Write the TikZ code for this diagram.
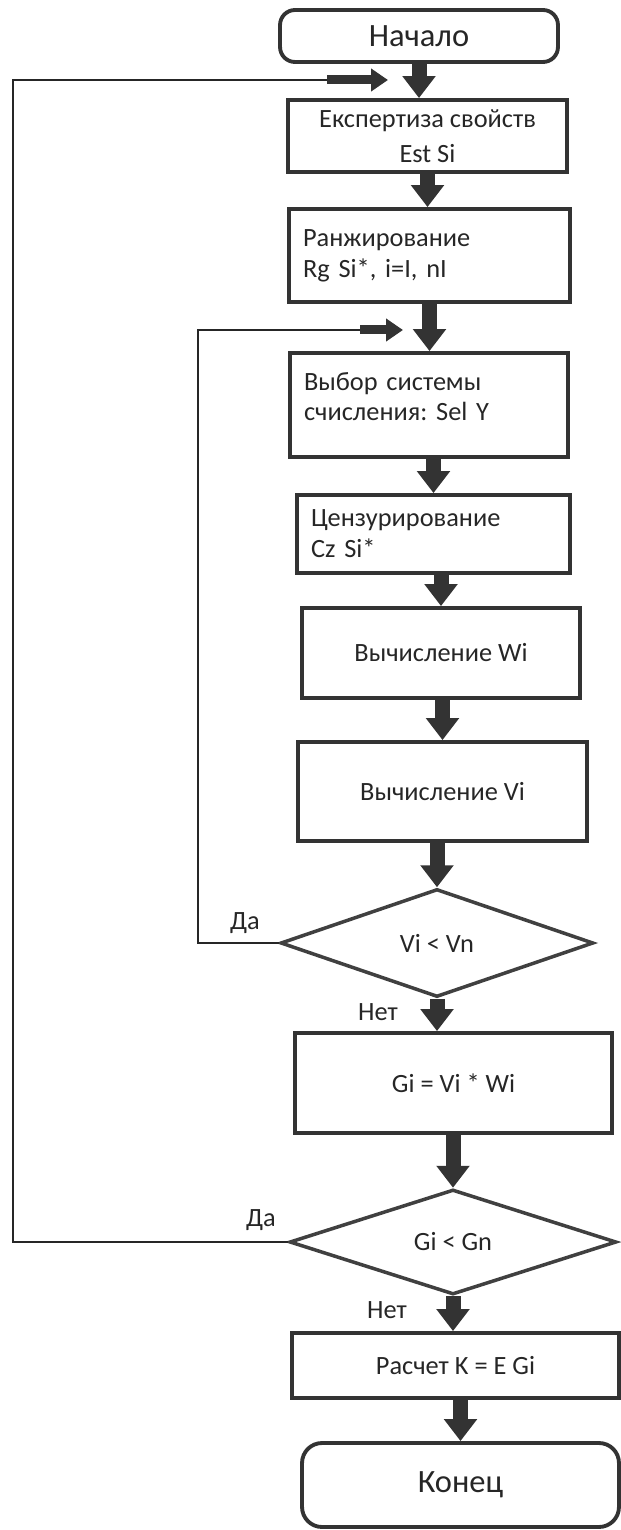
\documentclass[tikz,border=0pt]{standalone}
\usepackage{fontspec}
\setmainfont{Carlito}
\usetikzlibrary{shapes.geometric,arrows.meta}

\begin{document}
\begin{tikzpicture}[
			x=0.02cm,
			y=-0.02cm,
			every node/.style={font=\fontsize{15}{17.6}\selectfont\frenchspacing, text=black!85},
			stepbox/.style={draw=black!80, line width=2.2pt, rectangle, align=center, inner xsep=0.28cm, inner ysep=0pt},
			leftbox/.style={stepbox, align=left},
			termbox/.style={stepbox, rounded corners=0.3cm, font=\fontsize{18.5}{22}\selectfont},
			decbox/.style={draw=black!75, line width=2pt, diamond, inner sep=0pt},
			flowarrow/.style={draw=black!80, line width=0.3cm, -{Triangle[width=0.64cm,length=0.44cm]}},
			loopline/.style={draw=black!85, line width=0.9pt},
			looparrow/.style={draw=black!80, line width=0.18cm, -{Triangle[width=0.44cm,length=0.34cm]}},
			branch label/.style={inner sep=0pt}
		]
		\useasboundingbox (0,0) rectangle (621,1530);

		\node[termbox, minimum width=5.56cm, minimum height=1.04cm] (start) at (419,36) {Начало};
		\node[stepbox, minimum width=5.58cm, minimum height=1.44cm] (expert) at (427.5,136) {Експертиза свойств\\[2pt]Est Si};
		\node[leftbox, text width=5.06cm, minimum height=1.86cm] (rank) at (429.5,255.5) {Ранжирование\\Rg Si*, i=I, nI};
		\node[leftbox, text width=5.00cm, minimum height=2.08cm] (select) at (429,405) {Выбор системы\\счисления: Sel Y\\[-8pt]\mbox{}};
		\node[leftbox, text width=4.90cm, minimum height=1.56cm] (censor) at (433.5,534) {Цензурирование\\Cz Si*};
		\node[stepbox, minimum width=5.56cm, minimum height=1.80cm] (calcW) at (441,653) {Вычисление Wi};
		\node[stepbox, minimum width=5.78cm, minimum height=1.98cm] (calcV) at (442.5,791.5) {Вычисление Vi};
		\node[decbox, minimum width=6.26cm, minimum height=2.16cm] (checkV) at (437,943) {Vi < Vn};
		\node[stepbox, minimum width=6.34cm, minimum height=2.00cm] (prod) at (453.5,1083) {Gi = Vi * Wi};
		\node[decbox, minimum width=6.54cm, minimum height=2.10cm] (checkG) at (453,1242) {Gi < Gn};
		\node[stepbox, minimum width=6.54cm, minimum height=1.30cm] (total) at (455.5,1365.5) {Расчет K = E Gi};
		\node[termbox, rounded corners=0.4cm, minimum width=6.34cm, minimum height=1.68cm] (finish) at (460.5,1485) {Конец};

		\node[branch label] (yesV) at (245,923) {Да};
		\node[branch label] (noV) at (378,1012) {Нет};
		\node[branch label] (yesG) at (261,1220) {Да};
		\node[branch label] (noG) at (387,1310) {Нет};

		\draw[flowarrow] (start.south) -- (start.south |- expert.north);
		\draw[flowarrow] (expert.south) -- (expert.south |- rank.north);
		\draw[flowarrow] (rank.south) -- (rank.south |- select.north);
		\draw[flowarrow] (censor.north |- select.south) -- (censor.north);
		\draw[flowarrow] (calcW.north |- censor.south) -- (calcW.north);
		\draw[flowarrow] (calcV.north |- calcW.south) -- (calcV.north);
		\draw[flowarrow] (checkV.north |- calcV.south) -- (checkV.north);
		\draw[flowarrow] (checkV.south) -- (checkV.south |- prod.north);
		\draw[flowarrow] (checkG.north |- prod.south) -- (checkG.north);
		\draw[flowarrow] (checkG.south) -- (checkG.south |- total.north);
		\draw[flowarrow] (finish.north |- total.south) -- (finish.north);

		\coordinate (railG) at (13,600);
		\coordinate (bendG) at (327,80);
		\coordinate (inG) at (388,80);
		\draw[loopline] (checkG.west) -| (railG) |- (bendG);
		\draw[looparrow] (bendG) -- (inG);

		\coordinate (railV) at (198,600);
		\coordinate (bendV) at (360,330);
		\coordinate (inV) at (403,330);
		\draw[loopline] (checkV.west) -| (railV) |- (bendV);
		\draw[looparrow] (bendV) -- (inV);
	\end{tikzpicture}
\end{document}
